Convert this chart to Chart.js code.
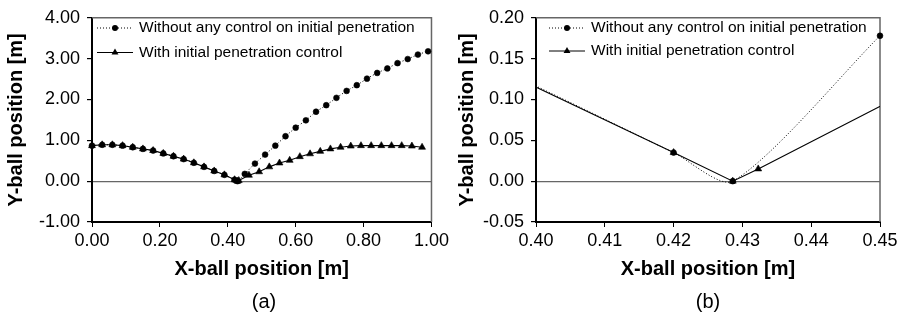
<!DOCTYPE html>
<html>
<head>
<meta charset="utf-8">
<script src="https://cdn.jsdelivr.net/npm/chart.js@4.4.1/dist/chart.umd.min.js"></script>
<style>
  html, body { margin: 0; padding: 0; background: #fff; }
  #wrap { position: relative; width: 904px; height: 321px; overflow: hidden; }
  canvas { position: absolute; top: 0; }
  #chartA { left: 0; }
  #chartB { left: 452px; }
  .tag { position: absolute; top: 289px; width: 60px; margin-left: -30px; text-align: center;
         font: 20px "Liberation Sans", Arial, sans-serif; line-height: 24px; color: #000; }
</style>
</head>
<body>
<div id="wrap">
  <canvas id="chartA" width="452" height="321"></canvas>
  <canvas id="chartB" width="452" height="321"></canvas>
  <div class="tag" style="left:264px">(a)</div>
  <div class="tag" style="left:708px">(b)</div>
</div>
<script>
// part of the path both runs share (approach to the contact point)
const xShared = [0, 0.03, 0.06, 0.09, 0.12, 0.15, 0.18, 0.21, 0.24, 0.27, 0.30, 0.33, 0.36, 0.39, 0.42, 0.4286];
const yShared = [0.87, 0.89, 0.89, 0.87, 0.83, 0.79, 0.75, 0.68, 0.61, 0.54, 0.45, 0.35, 0.25, 0.155, 0.035, 0];

// without any control on initial penetration
const xNoControl = [0.45, 0.48, 0.51, 0.54, 0.57, 0.60, 0.63, 0.66, 0.69, 0.72, 0.75, 0.78, 0.81, 0.84, 0.87, 0.90, 0.93, 0.96, 0.99];
const yNoControl = [0.178, 0.43, 0.65, 0.87, 1.10, 1.31, 1.49, 1.70, 1.86, 2.04, 2.21, 2.35, 2.51, 2.65, 2.76, 2.89, 2.99, 3.10, 3.18];

// with initial penetration control
const xControl = [0.4323, 0.4623, 0.4923, 0.5223, 0.5523, 0.5823, 0.6123, 0.6423, 0.6723, 0.7023, 0.7323, 0.7623, 0.7923, 0.8223, 0.8523, 0.8823, 0.9123, 0.9423, 0.9723];
const yControl = [0.015, 0.145, 0.23, 0.35, 0.445, 0.51, 0.60, 0.67, 0.73, 0.79, 0.83, 0.86, 0.87, 0.87, 0.87, 0.87, 0.87, 0.86, 0.83];

const seriesNames = ['Without any control on initial penetration', 'With initial penetration control'];
const xTitle = 'X-ball position [m]';
const yTitle = 'Y-ball position [m]';

const FONT = '"Liberation Sans", Arial, sans-serif';
Chart.defaults.font.family = FONT;
Chart.defaults.color = '#000';

function toPoints(xs, ys) {
    return xs.map(function (x, i) { return { x: x, y: ys[i] }; });
}

const noControlPts = toPoints(xShared.concat(xNoControl), yShared.concat(yNoControl));
const controlPts = toPoints(xShared.concat(xControl), yShared.concat(yControl));

// gray top/right border of the plot area
const frame = {
    id: 'frame',
    beforeDatasetsDraw(chart) {
        const a = chart.chartArea, ctx = chart.ctx;
        ctx.save();
        ctx.strokeStyle = '#666';
        ctx.lineWidth = 1.5;
        ctx.beginPath();
        ctx.moveTo(a.left, a.top);
        ctx.lineTo(a.right, a.top);
        ctx.lineTo(a.right, a.bottom);
        ctx.stroke();
        ctx.restore();
    }
};

function marker(ctx, style, x, y) {
    ctx.beginPath();
    if (style === 'circle') {
        ctx.arc(x, y, 3, 0, Math.PI * 2);
    } else {
        const r = 4;
        ctx.moveTo(x, y - r);
        ctx.lineTo(x + r * 0.866, y + r * 0.5);
        ctx.lineTo(x - r * 0.866, y + r * 0.5);
        ctx.closePath();
    }
    ctx.fill();
}

// legend sitting inside the plot, top-left
const insideLegend = {
    id: 'insideLegend',
    afterDraw(chart, args, opts) {
        const ctx = chart.ctx;
        ctx.save();
        opts.rows.forEach(function (row) {
            ctx.strokeStyle = '#000';
            ctx.fillStyle = '#000';
            ctx.lineWidth = 1;
            ctx.setLineDash(row.dash);
            ctx.beginPath();
            ctx.moveTo(opts.x0, row.y);
            ctx.lineTo(opts.x0 + 36, row.y);
            ctx.stroke();
            ctx.setLineDash([]);
            marker(ctx, row.style, opts.x0 + 18, row.y);
            ctx.font = '15.5px ' + FONT;
            ctx.textBaseline = 'middle';
            ctx.textAlign = 'left';
            ctx.fillText(row.text, opts.x0 + 42, row.y);
        });
        ctx.restore();
    }
};

function makeChart(id, o) {
    const tickFont = { size: 18 };
    const titleFont = { size: 20, weight: 'bold' };
    return new Chart(document.getElementById(id), {
        type: 'scatter',
        data: {
            datasets: [
                { data: noControlPts, showLine: false, pointStyle: 'circle', pointRadius: 2.9, pointBorderWidth: 0.6,
                  backgroundColor: '#000', borderColor: '#000', clip: 8 },
                { data: controlPts, showLine: false, pointStyle: 'triangle', pointRadius: 4, pointBorderWidth: 0.6,
                  backgroundColor: '#000', borderColor: '#000', clip: 8 },
                { data: noControlPts, showLine: true, pointRadius: 0, borderColor: '#000', borderWidth: 1,
                  borderDash: [1, 2], tension: 0.25 },
                { data: controlPts, showLine: true, pointRadius: 0, borderColor: '#000', borderWidth: 1.1, tension: 0 }
            ]
        },
        options: {
            responsive: false,
            animation: false,
            devicePixelRatio: 1,
            layout: { padding: { left: 0, right: o.padRight, top: 12, bottom: 0 } },
            plugins: {
                legend: { display: false },
                tooltip: { enabled: false },
                insideLegend: {
                    x0: 97,
                    rows: [
                        { y: 28, dash: [1, 2], style: 'circle', text: seriesNames[0] },
                        { y: o.row2, dash: [], style: 'triangle', text: seriesNames[1] }
                    ]
                }
            },
            scales: {
                x: {
                    type: 'linear', min: o.xMin, max: o.xMax,
                    ticks: { stepSize: o.xStep, font: tickFont, color: '#000', padding: 3, maxRotation: 0,
                             callback: function (v) { return v.toFixed(2); } },
                    grid: { drawOnChartArea: false, tickColor: '#000', tickLength: 5 },
                    border: { color: '#000', width: 2 },
                    title: { display: true, text: xTitle, font: titleFont, color: '#000', padding: { top: 0, bottom: 40 } },
                    afterFit: function (s) { s.height = 99; }
                },
                y: {
                    type: 'linear', min: o.yMin, max: o.yMax,
                    ticks: { stepSize: o.yStep, font: tickFont, color: '#000', padding: 7,
                             callback: function (v) { return v.toFixed(2); } },
                    grid: {
                        color: function (c) { return c.tick && Math.abs(c.tick.value) < 1e-9 ? '#666' : 'rgba(0,0,0,0)'; },
                        tickColor: '#000', tickLength: 5, lineWidth: 1.2
                    },
                    border: { color: '#000', width: 2 },
                    title: { display: true, text: yTitle, font: titleFont, color: '#000', padding: { top: o.yTitlePad, bottom: 0 } },
                    afterFit: function (s) { s.width = o.axisW; }
                }
            }
        },
        plugins: [frame, insideLegend]
    });
}

makeChart('chartA', { xMin: 0, xMax: 1, xStep: 0.2, yMin: -1, yMax: 4, yStep: 1,
                      axisW: 92, padRight: 16, yTitlePad: 4, row2: 52.5 });
makeChart('chartB', { xMin: 0.40, xMax: 0.45, xStep: 0.01, yMin: -0.05, yMax: 0.20, yStep: 0.05,
                      axisW: 84, padRight: 24, yTitlePad: 3, row2: 51 });
</script>
</body>
</html>
